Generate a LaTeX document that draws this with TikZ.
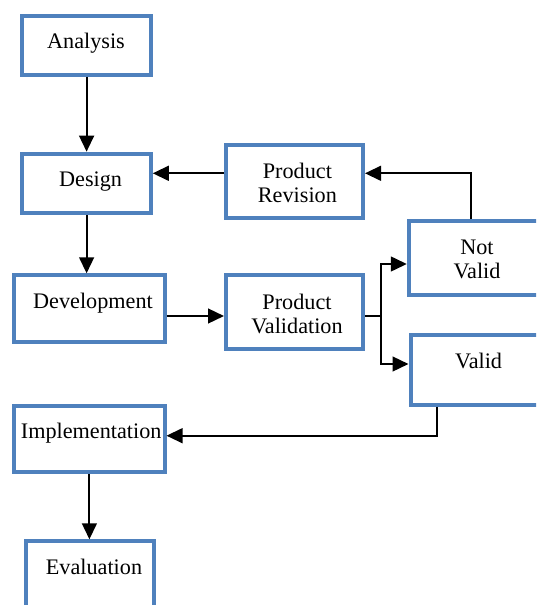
\documentclass[tikz,border=0pt]{standalone}
\usepackage{fontspec}
\setmainfont{Liberation Serif}
\usetikzlibrary{arrows.meta,calc}
\definecolor{boxblue}{HTML}{4F81BD}
\begin{document}
\begin{tikzpicture}[x=0.5pt,y=-0.5pt,
  box/.style={draw=boxblue,line width=2pt,inner sep=0pt},
  lbl/.style={font=\fontsize{11.1}{12}\selectfont,inner sep=0pt,align=center},
  arr/.style={draw=black,line width=1pt,-{Triangle[length=8pt,width=7.4pt]}},
  ln/.style={draw=black,line width=1pt}]
\useasboundingbox (0,0) rectangle (536,605);
\clip (0,0) rectangle (536,605);
% texts
\node[lbl,anchor=base] (tAnalysis) at (86,48.3) {Analysis};
\node[lbl,anchor=base] (tDesign) at (90.6,186) {Design};
\node[lbl,anchor=base] (tPR) at (297.4,202.7) {Product\\Revision};
\node[lbl,anchor=base] (tDev) at (93,308.3) {Development};
\node[lbl,anchor=base] (tPV) at (297,333.3) {Product\\Validation};
\node[lbl,anchor=base] (tNV) at (477,278.3) {Not\\Valid};
\node[lbl,anchor=base] (tV) at (478.6,368.3) {Valid};
\node[lbl,anchor=base west] (tImpl) at (20.5,438.3) {Implementation};
\node[lbl,anchor=base] (tEval) at (94,574) {Evaluation};
% boxes
\node[box,minimum width=64.15pt,minimum height=29.35pt] (Analysis) at (86.6,45.35) {};
\node[box,minimum width=64.15pt,minimum height=29.65pt] (Design) at (86.6,183.35) {};
\node[box,minimum width=68.5pt,minimum height=36.35pt] (PR) at (294.5,181.65) {};
\node[box,minimum width=75.1pt,minimum height=33.5pt] (Dev) at (89.4,308.8) {};
\node[box,minimum width=68.5pt,minimum height=36.7pt] (PV) at (294.5,312) {};
\node[box,minimum width=68.5pt,minimum height=36.7pt] (NotValid) at (477.3,258) {};
\node[box,minimum width=68.5pt,minimum height=34.7pt] (Valid) at (479,370) {};
\node[box,minimum width=75.1pt,minimum height=33pt] (Impl) at (89.4,439) {};
\node[box,minimum width=63.8pt,minimum height=33pt] (Eval) at (89.8,574.3) {};
% helper coordinates
\path (0,173.3) coordinate (yA)
      (470.8,173.3) coordinate (fb)
      (0,316) coordinate (yB)
      (381,316) coordinate (sp)
      (0,264) coordinate (yNV)
      (0,364) coordinate (yV)
      (437,435.7) coordinate (vi);
% connectors
\draw[arr] (Analysis.south) -- (Design.north);
\draw[arr] (Design.south) -- (Design.south |- Dev.north);
\draw[arr] (PR.west |- yA) -- (Design.east |- yA);
\draw[arr] (fb |- NotValid.north) -- (fb) -- (fb -| PR.east);
\draw[arr] (Dev.east |- yB) -- (PV.west |- yB);
\draw[ln] (PV.east |- sp) -- (sp);
\draw[arr] (sp) |- (NotValid.west |- yNV);
\draw[arr] (sp) |- (Valid.west |- yV);
\draw[arr] (vi |- Valid.south) -- (vi) -- (vi -| Impl.east);
\draw[arr] (Impl.south) -- (Impl.south |- Eval.north);
\end{tikzpicture}
\end{document}
